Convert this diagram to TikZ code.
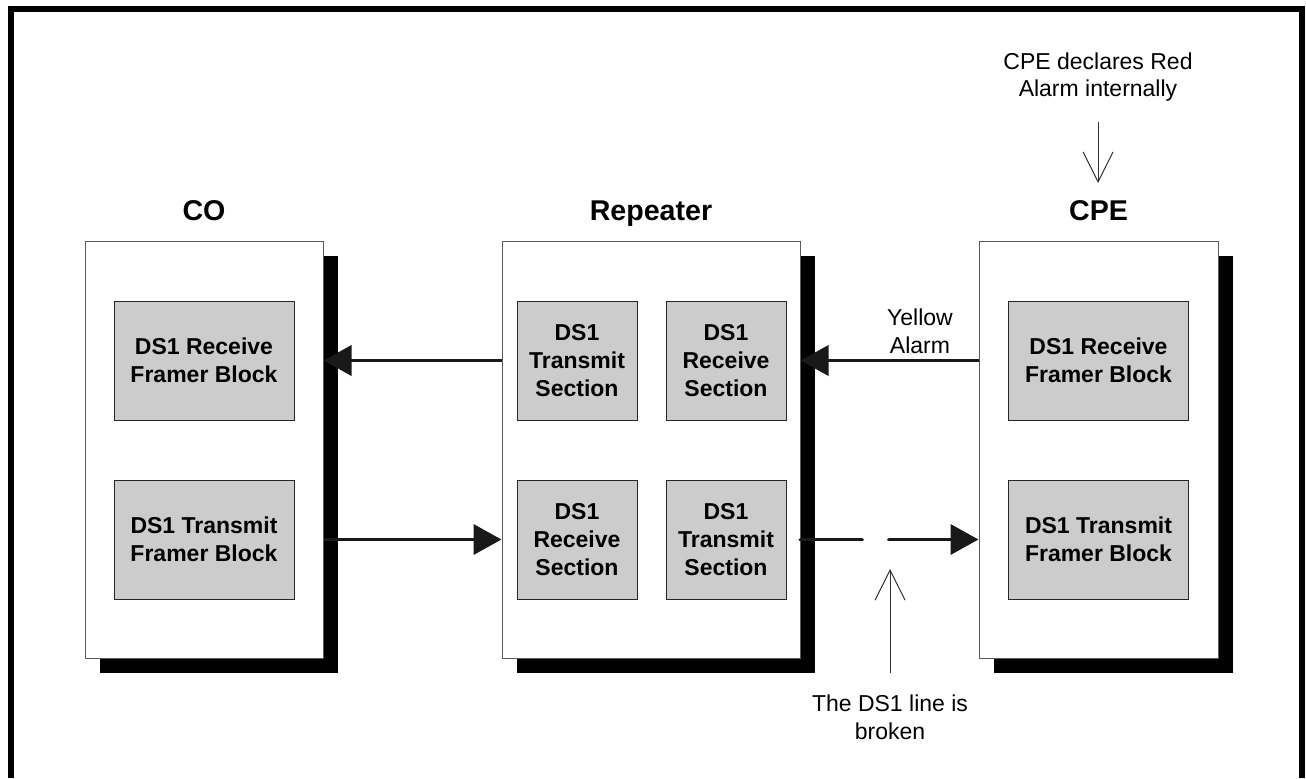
\documentclass[tikz,border=0pt]{standalone}
\usepackage{fontspec}
\setmainfont{Liberation Sans}
\usepackage{xcolor}
\usepackage{tikz}
\usetikzlibrary{positioning, arrows.meta, shadows}

\definecolor{boxgray}{RGB}{204,204,204}
\definecolor{edgegray}{RGB}{90,90,90}

\begin{document}
\begin{tikzpicture}[
    x=0.5pt, y=-0.5pt,
    site/.style={rectangle, draw=edgegray, line width=0.5pt, fill=white, minimum height=208.5pt, drop shadow={shadow xshift=7.5pt, shadow yshift=-7.5pt, fill=black, opacity=1}},
    framer/.style={rectangle, draw=black!85, line width=0.5pt, fill=boxgray, align=center, minimum width=90pt, minimum height=59.5pt, inner sep=0pt, font=\bfseries\fontsize{11.5}{13.8}\selectfont},
    secbox/.style={framer, minimum width=60pt},
    sitetitle/.style={font=\bfseries\fontsize{14.3}{17}\selectfont, anchor=base},
    notetext/.style={align=center, font=\fontsize{11.5}{13.8}\selectfont},
    linkarrow/.style={-{Triangle[length=14pt, width=15pt]}, line width=1.9pt, draw=black!90},
    callout/.style={-{Straight Barb[length=15pt, width=15pt]}, line width=0.5pt, draw=black!80},
    outerframe/.style={line width=3pt, draw=black}
]
    \useasboundingbox (0,0) rectangle (1306,778);
    \draw [outerframe] (11,778) |- (1302,9) -- (1302,778);

    \node [site, minimum width=119pt] (co) at (204,449.5) {};
    \node [site, minimum width=149pt] (rep) at (651,449.5) {};
    \node [site, minimum width=119.5pt] (cpe) at (1098.5,449.5) {};

    \node [above=10pt of co.north, sitetitle] (cotitle) {CO};
    \node [above=10pt of rep.north, sitetitle] (reptitle) {Repeater};
    \node [above=10pt of cpe.north, sitetitle] (cpetitle) {CPE};

    \node [framer] (corx) at (204,360.5) {DS1 Receive\\Framer Block};
    \node [framer] (cotx) at (204,539.5) {DS1 Transmit\\Framer Block};
    \node [secbox] (reptx) at (577,360.5) {DS1\\Transmit\\Section};
    \node [secbox] (reprx) at (726,360.5) {DS1\\Receive\\Section};
    \node [secbox] (reprxb) at (577,539.5) {DS1\\Receive\\Section};
    \node [secbox] (reptxb) at (726,539.5) {DS1\\Transmit\\Section};
    \node [framer] (cperx) at (1098.5,360.5) {DS1 Receive\\Framer Block};
    \node [framer] (cpetx) at (1098.5,539.5) {DS1 Transmit\\Framer Block};

    \node [notetext] (redalarm) at (1098,77) {CPE declares Red\\Alarm internally};
    \node [notetext] (yellow) at (920,331) {Yellow\\Alarm};
    \node [notetext] (broken) at (890,717) {The DS1 line is\\broken};

    \coordinate (redfrom) at (1098,122);
    \coordinate (redto) at (1098,183);
    \coordinate (brkfrom) at (890,673);
    \coordinate (brkto) at (890,569);
    \coordinate (gapleft) at (862,539.5);
    \coordinate (gapright) at (889,539.5);

    \draw [linkarrow] (rep.west |- reptx) -- (co.east |- corx);
    \draw [linkarrow] (cpe.west |- cperx) -- (rep.east |- reprx);
    \draw [linkarrow] (co.east |- cotx) -- (rep.west |- reprxb);
    \draw [linkarrow, -, line cap=round] (rep.east |- reptxb) -- (gapleft);
    \draw [linkarrow, line cap=round] (gapright) -- (cpe.west |- cpetx);

    \draw [callout] (redfrom) -- (redto);
    \draw [callout] (brkfrom) -- (brkto);
\end{tikzpicture}
\end{document}
